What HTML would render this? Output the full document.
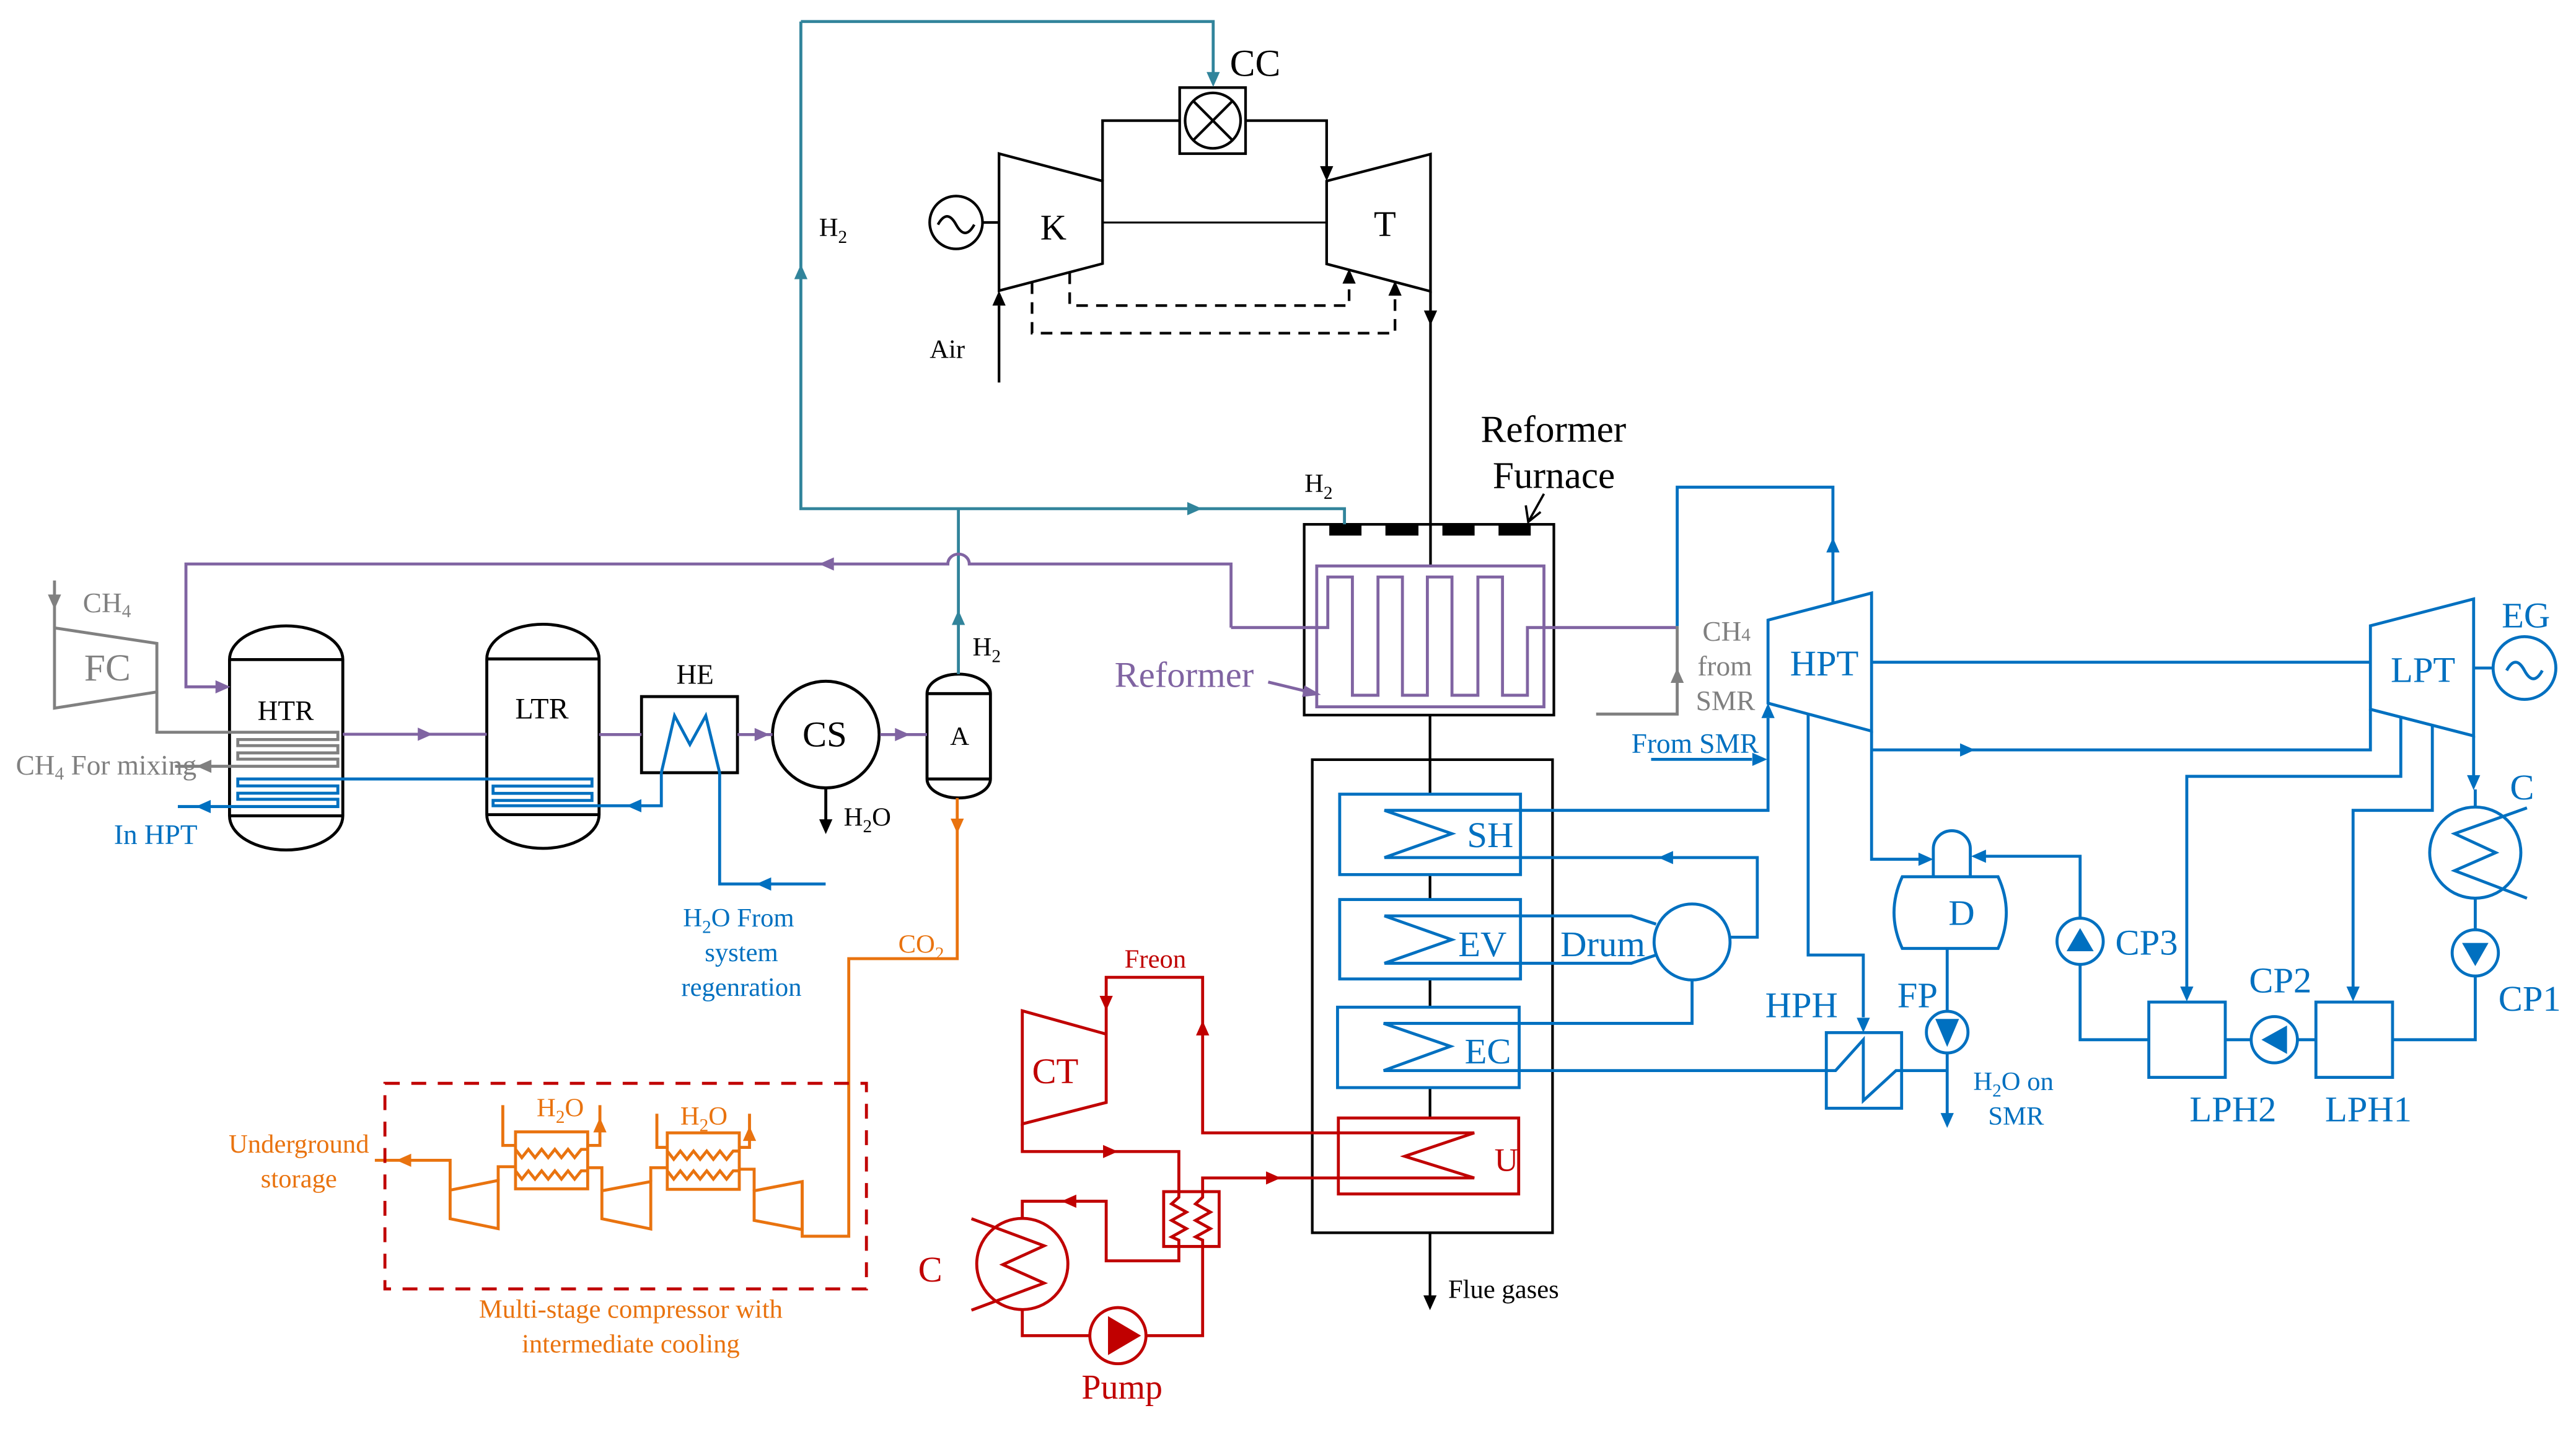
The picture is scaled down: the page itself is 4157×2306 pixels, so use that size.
<!DOCTYPE html>
<html><head><meta charset="utf-8"><style>
html,body{margin:0;padding:0;background:#fff;}
svg{display:block;}
text{font-family:"Liberation Serif","Times New Roman",serif;}
</style></head><body>
<svg width="4157" height="2306" viewBox="0 0 1560 865.3" xmlns="http://www.w3.org/2000/svg">
<rect width="1560" height="865.3" fill="#fff"/>

<!-- ===== Gas turbine (black) ===== -->
<g stroke="#000" stroke-width="1.6" fill="none">
<polygon points="605,93 667.7,109.6 667.7,159.6 605,176"/>
<polygon points="803.4,109.6 866.3,93.3 866.3,176.4 803.4,159.8"/>
<line x1="667.7" y1="134.7" x2="803.4" y2="134.7" stroke-width="1.2"/>
<path d="M667.7,109.6 V73 H714.4 M754.3,73 H803.4 V102"/>
<rect x="714.4" y="53" width="39.9" height="40"/>
<circle cx="734.5" cy="73" r="16.8"/>
<line x1="722.6" y1="61.1" x2="746.4" y2="84.9"/><line x1="746.4" y1="61.1" x2="722.6" y2="84.9"/>
<circle cx="579" cy="134.7" r="16"/>
<path d="M568,136 q5.5,-10 11,0 t11,0"/>
<line x1="595" y1="134.7" x2="605" y2="134.7"/>
<line x1="605" y1="231.6" x2="605" y2="185"/>
<path d="M625,171 V201.7 H844.8 V178 M647.8,165 V185 H817 V171" stroke-dasharray="7,5"/>
<line x1="866.3" y1="176.4" x2="866.3" y2="342.7"/>
<line x1="866" y1="433" x2="866" y2="480.9"/>
<line x1="866" y1="529.6" x2="866" y2="544.7"/>
<line x1="866" y1="592.8" x2="866" y2="609.9"/>
<line x1="866" y1="658.6" x2="866" y2="677"/>
<line x1="866" y1="746.5" x2="866" y2="786"/>
<rect x="789.8" y="317.5" width="151.2" height="115.5"/>
<rect x="794.7" y="460" width="145.5" height="286.5"/>
<path d="M935,299 L925.5,316 M924,306 L925.5,316 L933,310" stroke-width="1.4"/>
</g>
<g fill="#000">
<polygon points="803.4,109.6 799.4,100.6 807.4,100.6"/>
<polygon points="605,176 601,185 609,185"/>
<polygon points="844.8,170 840.8,179 848.8,179"/>
<polygon points="817,162.7 813,171.7 821,171.7"/>
<polygon points="866.3,197 862.3,188 870.3,188"/>
<polygon points="866,793.4 862,784.4 870,784.4"/>
<rect x="805" y="317.5" width="19.5" height="6.8"/><rect x="839" y="317.5" width="20" height="6.8"/>
<rect x="873.5" y="317.5" width="19.5" height="6.8"/><rect x="907.5" y="317.5" width="19.5" height="6.8"/>
</g>
<g fill="#000" font-size="22">
<text x="744.8" y="46" font-size="23">CC</text>
<text x="630" y="145">K</text>
<text x="832" y="143">T</text>
<text x="563" y="216.6" font-size="16">Air</text>
<text x="896.7" y="267.5" font-size="23">Reformer</text>
<text x="904" y="295.5" font-size="23">Furnace</text>
<text x="877" y="786" font-size="16">Flue gases</text>
<text x="511" y="500" font-size="16">H<tspan font-size="11" dy="4">2</tspan><tspan dy="-4">O</tspan></text>
<text x="312" y="435" font-size="18">LTR</text>
<text x="156" y="436" font-size="17">HTR</text>
<text x="409.6" y="414" font-size="17">HE</text>
<text x="486" y="452" font-size="22">CS</text>
<text x="575.4" y="451" font-size="16">A</text>
<text x="496" y="143" font-size="16">H<tspan font-size="11" dy="4">2</tspan></text>
<text x="790" y="298" font-size="16">H<tspan font-size="11" dy="4">2</tspan></text>
<text x="589" y="397" font-size="16">H<tspan font-size="11" dy="4">2</tspan></text>
</g>

<!-- vessels -->
<g stroke="#000" stroke-width="1.8" fill="none">
<path d="M139,399.4 A34.3,20.4 0 0 1 207.6,399.4 V494 A34.3,20.7 0 0 1 139,494 Z M139,399.4 H207.6 M139,494 H207.6"/>
<path d="M294.8,399 A34,21 0 0 1 362.8,399 V493.3 A34,20.4 0 0 1 294.8,493.3 Z M294.8,399 H362.8 M294.8,493.3 H362.8"/>
<path d="M561.4,420 A19.2,11.8 0 0 1 599.8,420 V471.7 A19.2,11.5 0 0 1 561.4,471.7 Z M561.4,420 H599.8 M561.4,471.7 H599.8"/>
<rect x="388.5" y="421.8" width="58.1" height="46.1"/>
<circle cx="500.1" cy="444.8" r="32.3"/>
<line x1="500.1" y1="477" x2="500.1" y2="497"/>
</g>
<polygon points="500.1,505.1 496.1,496.1 504.1,496.1" fill="#000"/>

<!-- ===== Teal H2 ===== -->
<g stroke="#31849B" stroke-width="1.8" fill="none">
<path d="M485,13 H734.7 V44 M485,13 V308 H814.2 V317.5 M580.4,308 V408.2"/>
</g>
<g fill="#31849B">
<polygon points="734.7,52.6 730.7,43.6 738.7,43.6"/>
<polygon points="485,160 481,169 489,169"/>
<polygon points="728,308 719,304 719,312"/>
<polygon points="580.4,369.4 576.4,378.4 584.4,378.4"/>
</g>

<!-- ===== Purple ===== -->
<g stroke="#8064A2" stroke-width="1.8" fill="none">
<path d="M745.5,380 V341.5 H587 A6.5,6 0 0 0 574,341.5 H112.6 V415.9 H131"/>
<rect x="797.4" y="342.7" width="137.6" height="85.3"/>
<path d="M745.5,380 H804.1 V349.4 H819 V421 H834.5 V349.4 H849.3 V421 H864.4 V349.4 H879.3 V421 H895 V349.4 H909.9 V421 H925 V380 H1015.7"/>
<path d="M207.6,444.6 H294.8 M362.8,444.8 H388.5 M446.6,444.8 H467.8 M533,444.8 H561.4"/>
<path d="M768,413 L797,420"/>
</g>
<g fill="#8064A2">
<polygon points="139.5,415.9 130.5,411.9 130.5,419.9"/>
<polygon points="496,341.5 505,337.5 505,345.5"/>
<polygon points="262,444.6 253,440.6 253,448.6"/>
<polygon points="466,444.8 457,440.8 457,448.8"/>
<polygon points="551,444.8 542,440.8 542,448.8"/>
<polygon points="800,420.7 790,415 788.5,422"/>
<text x="675" y="416" font-size="22">Reformer</text>
</g>

<!-- ===== Gray ===== -->
<g stroke="#808080" stroke-width="1.8" fill="none">
<polygon points="33,380.2 95,389.6 95,419 33,428.8"/>
<line x1="33" y1="351.5" x2="33" y2="380.2"/>
<path d="M95,419 V443.4 H204.6 V447.8 H144 V451.5 H204.6 V455.9 H144 V459.7 H204.6 V464 H106"/>
<path d="M1015.7,379.1 V432.4 H966.6"/>
</g>
<g fill="#808080">
<polygon points="33,369 29,360 37,360"/>
<polygon points="119,464 128,460 128,468"/>
<polygon points="1015.7,404.5 1011.7,413.5 1019.7,413.5"/>
<text x="50.2" y="370.8" font-size="17">CH<tspan font-size="11" dy="3">4</tspan></text>
<text x="51" y="412" font-size="23">FC</text>
<text x="9.6" y="469" font-size="17">CH<tspan font-size="11" dy="3">4</tspan><tspan dy="-3"> For mixing</tspan></text>
<text x="1031" y="388" font-size="17">CH<tspan font-size="11">4</tspan></text>
<text x="1028" y="409" font-size="17">from</text>
<text x="1027" y="430" font-size="17">SMR</text>
</g>

<!-- ===== Blue ===== -->
<g stroke="#0070C0" stroke-width="1.8" fill="none">
<path d="M400.5,467.9 V487.9 H298.6 V484.7 H358.5 V480.4 H298.6 V476 H358.5 V471.7 H144 V475.9 H204.6 V480.3 H144 V484 H204.6 V488.4 H107.7"/>
<path d="M435.8,467.9 V535.3 H500"/>
<polyline points="400.5,467.9 408.5,433.4 417.8,450.8 427.4,433.4 435.8,467.9"/>
<rect x="811.3" y="480.9" width="109.5" height="48.7"/>
<rect x="811.3" y="544.7" width="109.5" height="48.1"/>
<rect x="810" y="609.9" width="110" height="48.7"/>
<path d="M1070.7,434.8 V490.7 H838.4 L879.2,504.8 L838.4,519.3 H1064.2 V567.5 H1047.6"/>
<path d="M1002.9,559.6 L987.9,554.6 H838.4 L879.2,569 L838.4,583.3 H987.9 L1002.9,578.3"/>
<circle cx="1024.7" cy="570.4" r="23"/>
<path d="M1024.7,593.4 V619.7 H837.9 L878.4,633.6 L837.9,648.3 H1111.6 L1128.4,629.6 V666.5 L1148.2,648.3 H1179.2"/>
<rect x="1106" y="625.3" width="45.6" height="45.8"/>
<path d="M1095,432 V578.3 H1128.4 V616"/>
<path d="M1133.4,442.7 V520.3 H1162"/>
<path d="M1170.8,530.9 V514 A11.2,11 0 0 1 1193.2,514 V530.9"/>
<path d="M1152,530.9 H1210 Q1220,552.6 1210,574.3 H1152 Q1142,552.6 1152,530.9 Z"/>
<path d="M1259.7,556 V518.5 H1202"/>
<path d="M1179.2,574.3 V612.4 M1179.2,637.6 V675"/>
<circle cx="1179.2" cy="625" r="12.6"/>
<polygon points="1070.7,375.5 1133.4,359.1 1133.4,442.7 1070.7,425.8"/>
<path d="M1015.7,379.1 V295 H1110 V365.2"/>
<path d="M999.9,459.8 H1061"/>
<path d="M1133.4,401 H1435.5 M1133.4,454.1 H1435.5 V429.5"/>
<polygon points="1435.5,378.9 1498,362.7 1498,445.6 1435.5,429.5"/>
<path d="M1498,404.5 H1509.8"/>
<circle cx="1528.8" cy="404.5" r="19"/>
<path d="M1518,406 q5.4,-10 10.8,0 t10.8,0"/>
<path d="M1498,445.6 V470 M1499,488.7 V478"/>
<circle cx="1499" cy="516.3" r="27.6"/>
<polyline points="1530.3,489.2 1486.5,504.8 1511.4,516.3 1486.5,527.2 1530.3,543.9"/>
<path d="M1499,544 V563 M1499,591 V629.6 H1448.9"/>
<circle cx="1499" cy="577" r="14"/>
<rect x="1402.5" y="606.8" width="46.4" height="45.6"/>
<rect x="1301.3" y="606.8" width="46.3" height="45.6"/>
<circle cx="1377.3" cy="629.6" r="14"/>
<path d="M1347.6,629.6 H1363.3 M1391.3,629.6 H1402.5"/>
<path d="M1301.3,629.6 H1259.7 V584"/>
<circle cx="1259.7" cy="570" r="14"/>
<path d="M1453.9,434 V470.1 H1324.3 V598 M1473,439 V490.7 H1425 V598"/>
</g>
<g fill="#0070C0">
<polygon points="379.4,487.9 388.4,483.9 388.4,491.9"/>
<polygon points="118.6,488.4 127.6,484.4 127.6,492.4"/>
<polygon points="458,535.3 467,531.3 467,539.3"/>
<polygon points="1070.7,425.8 1066.7,434.8 1074.7,434.8"/>
<polygon points="1004.2,519.3 1013.2,515.3 1013.2,523.3"/>
<polygon points="1128.4,625.3 1124.4,616.3 1132.4,616.3"/>
<polygon points="1170.8,520.3 1161.8,516.3 1161.8,524.3"/>
<polygon points="1193.7,518.5 1202.7,514.5 1202.7,522.5"/>
<polygon points="1172,617 1186.4,617 1179.2,634"/>
<polygon points="1179.2,683 1175.2,674 1183.2,674"/>
<polygon points="1110,325.5 1106,334.5 1114,334.5"/>
<polygon points="1070.2,459.8 1061.2,455.8 1061.2,463.8"/>
<polygon points="1196,454.1 1187,450.1 1187,458.1"/>
<polygon points="1498,478.4 1494,469.4 1502,469.4"/>
<polygon points="1491,571 1507,571 1499,585"/>
<polygon points="1369.5,629.6 1385,621 1385,638.2"/>
<polygon points="1259.7,562 1251.5,576 1267.9,576"/>
<polygon points="1324.3,606.4 1320.3,597.4 1328.3,597.4"/>
<polygon points="1425,606.4 1421,597.4 1429,597.4"/>
<g font-size="22">
<text x="888.4" y="513">SH</text>
<text x="883.1" y="579">EV</text>
<text x="945" y="579">Drum</text>
<text x="887" y="644">EC</text>
<text x="1069" y="616">HPH</text>
<text x="1180" y="560">D</text>
<text x="1149" y="610">FP</text>
<text x="1084" y="409">HPT</text>
<text x="1447.8" y="413">LPT</text>
<text x="1515" y="380">EG</text>
<text x="1520" y="484">C</text>
<text x="1513" y="612">CP1</text>
<text x="1362" y="601">CP2</text>
<text x="1281" y="578">CP3</text>
<text x="1326" y="679">LPH2</text>
<text x="1408" y="679">LPH1</text>
</g>
<text x="1195" y="660" font-size="16">H<tspan font-size="11" dy="4">2</tspan><tspan dy="-4">O on</tspan></text>
<text x="1204" y="681" font-size="16">SMR</text>
<text x="988" y="456" font-size="17">From SMR</text>
<text x="69" y="511" font-size="17">In HPT</text>
<text x="447.3" y="561" font-size="16" text-anchor="middle">H<tspan font-size="11" dy="4">2</tspan><tspan dy="-4">O From</tspan></text>
<text x="449" y="582" font-size="16" text-anchor="middle">system</text>
<text x="449" y="603" font-size="16" text-anchor="middle">regenration</text>
</g>

<!-- ===== Orange CO2 ===== -->
<g stroke="#E9730F" stroke-width="1.8" fill="none">
<path d="M579.7,483.2 V580.5 H514 V748.6 H485.8 V715.5"/>
<polygon points="456.7,721.1 485.8,715.5 485.8,744.6 456.7,739"/>
<path d="M456.7,721.1 V708 H447.7"/>
<rect x="404.1" y="686" width="43.6" height="34.2"/>
<polyline points="404.1,697 408,702 412,697 416,702 420,697 424,702 428,697 432,702 436,697 440,702 444,697 447.7,697"/>
<polyline points="404.1,709 408,714 412,709 416,714 420,709 424,714 428,709 432,714 436,709 440,714 444,709 447.7,709"/>
<polygon points="364.5,721.1 394.1,715.5 394.1,744.2 364.5,738"/>
<path d="M394.1,715.5 V707.1 H404.1 M364.5,721.1 V707.1 H355.9"/>
<rect x="312.2" y="685.4" width="43.7" height="34.5"/>
<polyline points="312.2,696 316,701 320,696 324,701 328,696 332,701 336,696 340,701 344,696 348,701 352,696 355.9,696"/>
<polyline points="312.2,709 316,714 320,709 324,714 328,709 332,714 336,709 340,714 344,709 348,714 352,709 355.9,709"/>
<polygon points="272.6,720.7 301.7,714.8 301.7,744 272.6,738"/>
<path d="M301.7,714.8 V706.5 H312.2 M272.6,720.7 V702.6 H227"/>
<path d="M304.5,669.2 V693.6 H312.2 M355.9,693.6 H363.3 V669.2"/>
<path d="M397.8,674.4 V694.8 H404.1 M447.7,694.8 H453.9 V674.4"/>
</g>
<g fill="#E9730F">
<polygon points="579.7,504.7 575.7,495.7 583.7,495.7"/>
<polygon points="240,702.6 249,698.6 249,706.6"/>
<polygon points="363.3,676.7 359.3,685.7 367.3,685.7"/>
<polygon points="453.9,681.9 449.9,690.9 457.9,690.9"/>
<text x="544" y="577" font-size="16">CO<tspan font-size="11" dy="4">2</tspan></text>
<text x="325" y="676" font-size="16">H<tspan font-size="11" dy="4">2</tspan><tspan dy="-4">O</tspan></text>
<text x="412" y="681" font-size="16">H<tspan font-size="11" dy="4">2</tspan><tspan dy="-4">O</tspan></text>
<text x="181" y="698" font-size="16" text-anchor="middle">Underground</text>
<text x="181" y="719" font-size="16" text-anchor="middle">storage</text>
<text x="382" y="798" font-size="16" text-anchor="middle">Multi-stage compressor with</text>
<text x="382" y="819" font-size="16" text-anchor="middle">intermediate cooling</text>
</g>
<rect x="233.1" y="656" width="291.6" height="124.5" fill="none" stroke="#C00000" stroke-width="1.8" stroke-dasharray="9,7"/>

<!-- ===== Red Freon ===== -->
<g stroke="#C00000" stroke-width="1.8" fill="none">
<polygon points="619.1,612.1 669.9,626.2 669.9,667.6 619.1,680.6"/>
<path d="M669.9,626.2 V591.8 H728.3 V686 H892.8 L850.7,700.2 L892.8,713.3 H728.3 V721.6"/>
<rect x="810.5" y="677" width="109.2" height="46"/>
<path d="M619.1,680.6 V697.3 H713.9 V721.6"/>
<rect x="704.7" y="721.6" width="33.6" height="33.2"/>
<polyline points="713.9,721.6 713.9,725 709.5,729 718.5,734 709.5,739 718.5,744 709.5,749 713.9,751 713.9,754.8"/>
<polyline points="728.3,721.6 728.3,725 724,729 733,734 724,739 733,744 724,749 728.3,751 728.3,754.8"/>
<path d="M713.9,754.8 V763.5 H669.9 V727.4 H619.1 V737.8"/>
<path d="M728.3,754.8 V808.8 H694"/>
<circle cx="677" cy="808.8" r="17"/>
<path d="M660,808.8 H619.1 V793"/>
<circle cx="619.1" cy="765.4" r="27.6"/>
<polyline points="588.3,738 632.3,754.4 607.3,765.8 632.3,777 588.3,793.4"/>
</g>
<g fill="#C00000">
<polygon points="669.9,612 665.9,603 673.9,603"/>
<polygon points="728.3,618 724.3,627 732.3,627"/>
<polygon points="775.7,713.3 766.7,709.3 766.7,717.3"/>
<polygon points="677,697.3 668,693.3 668,701.3"/>
<polygon points="642.8,727.4 651.8,723.4 651.8,731.4"/>
<polygon points="671,797 691,808.8 671,820.6"/>
<text x="681" y="586" font-size="16">Freon</text>
<text x="625" y="656" font-size="22">CT</text>
<text x="905" y="709" font-size="20">U</text>
<text x="556" y="776" font-size="22">C</text>
<text x="655" y="847" font-size="21">Pump</text>
</g>
</svg>
</body></html>
